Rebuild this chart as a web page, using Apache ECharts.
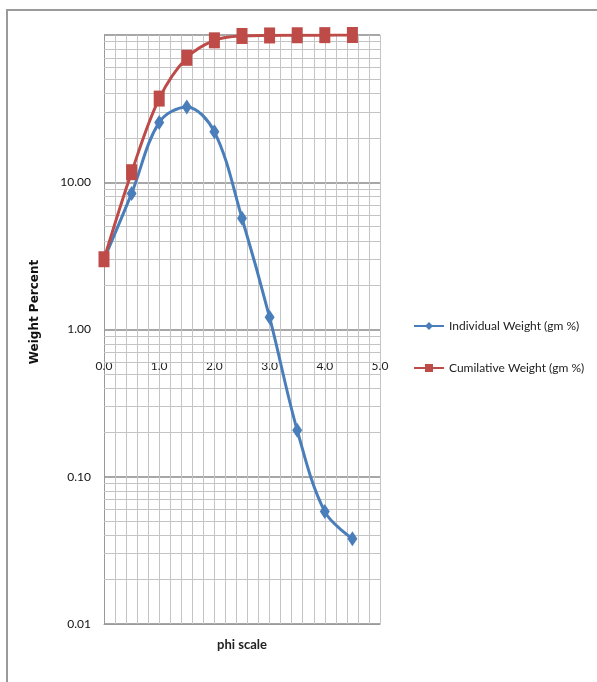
<!DOCTYPE html>
<html>
<head>
<meta charset="utf-8">
<script src="https://cdn.jsdelivr.net/npm/echarts@6/dist/echarts.min.js"></script>
<style>
  html, body { margin: 0; padding: 0; background: #fff; }
  #main { width: 597px; height: 682px; }
</style>
</head>
<body>
<div id="main"></div>
<script>
// phi scale positions and the two weight series
var phi = [0.0, 0.5, 1.0, 1.5, 2.0, 2.5, 3.0, 3.5, 4.0, 4.5];
var individual = [3.0, 8.4, 25.5, 32.5, 22, 5.7, 1.21, 0.207, 0.058, 0.038];
var cumulative = [3.0, 11.7, 37, 70, 92, 98.5, 99.3, 99.6, 99.8, 100];
var seriesNames = ['Individual Weight (gm %)', 'Cumilative Weight (gm %)'];

// minor log gridlines (2..9 in each decade)
var minorLines = [];
[0.01, 0.1, 1, 10].forEach(function (d) {
    for (var k = 2; k <= 9; k++) minorLines.push({ yAxis: +(d * k).toPrecision(3) });
});

function pairs(xs, ys) {
    return xs.map(function (x, i) { return [x, ys[i]]; });
}

var chart = echarts.init(document.getElementById('main'));
var font = 'Lato, "Liberation Sans", sans-serif';

var option = {
    animation: false,
    textStyle: { fontFamily: font },
    grid: { left: 104, right: 217, top: 35, bottom: 58 },
    legend: {
        orient: 'vertical',
        left: 408,
        top: 315,
        itemGap: 30,
        itemWidth: 30,
        itemHeight: 10,
        data: seriesNames,
        textStyle: { fontFamily: font, fontSize: 12, color: '#222' }
    },
    xAxis: [
        {
            type: 'value',
            min: 0,
            max: 5,
            interval: 0.2,
            axisLine: { show: true, lineStyle: { color: '#999', width: 1 } },
            axisTick: { show: false },
            axisLabel: { show: false },
            splitLine: { show: true, lineStyle: { color: '#c4c4c4', width: 1 } },
            name: 'phi scale',
            nameLocation: 'middle',
            nameGap: 14,
            nameTextStyle: { fontFamily: font, fontWeight: 'bold', fontSize: 13, color: '#222' }
        },
        {
            type: 'value',
            min: 0,
            max: 5,
            interval: 1,
            position: 'bottom',
            offset: -295,
            axisLine: { show: false },
            axisTick: { show: false },
            splitLine: { show: false },
            axisLabel: {
                margin: 31,
                fontSize: 12,
                color: '#222',
                fontFamily: font,
                formatter: function (v) { return v.toFixed(1); }
            }
        }
    ],
    yAxis: {
        type: 'log',
        logBase: 10,
        min: 0.01,
        max: 100,
        axisLine: { show: true, lineStyle: { color: '#999' } },
        axisTick: { show: false },
        axisLabel: {
            margin: 13,
            fontSize: 12,
            color: '#111',
            fontFamily: font,
            showMaxLabel: false,
            formatter: function (v) { return v >= 100 ? '' : v.toFixed(2); }
        },
        splitLine: { show: true, lineStyle: { color: '#8a8a8a', width: 1.5 } }
    },
    graphic: [
        {
            type: 'rect',
            shape: { x: 7, y: 10, width: 640, height: 720 },
            style: { fill: 'none', stroke: '#9a9a9a', lineWidth: 2 },
            silent: true
        },
        {
            type: 'text',
            x: 35,
            y: 312,
            rotation: Math.PI / 2,
            style: {
                text: 'Weight Percent',
                fontFamily: '"DejaVu Sans", Verdana, sans-serif',
                fontWeight: 'bold',
                fontSize: 12,
                fill: '#111',
                align: 'center',
                verticalAlign: 'middle'
            }
        }
    ],
    series: [
        {
            name: 'grid-minor',
            type: 'line',
            data: [],
            z: 1,
            silent: true,
            markLine: {
                silent: true,
                z: 1,
                symbol: ['none', 'none'],
                label: { show: false },
                lineStyle: { color: '#c4c4c4', type: 'solid', width: 1 },
                data: minorLines
            }
        },
        {
            name: seriesNames[0],
            type: 'line',
            smooth: 0.35,
            data: pairs(phi, individual),
            symbol: 'diamond',
            symbolSize: [10, 15],
            z: 3,
            itemStyle: { color: '#4a7ebb' },
            lineStyle: { color: '#4a7ebb', width: 3 }
        },
        {
            name: seriesNames[1],
            type: 'line',
            smooth: 0.35,
            data: pairs(phi, cumulative),
            symbol: 'rect',
            symbolSize: [11, 16],
            z: 4,
            itemStyle: { color: '#be4b48' },
            lineStyle: { color: '#be4b48', width: 3 }
        }
    ]
};

chart.setOption(option);
window.addEventListener('resize', function () {
    chart.resize();
});
</script>
</body>
</html>
